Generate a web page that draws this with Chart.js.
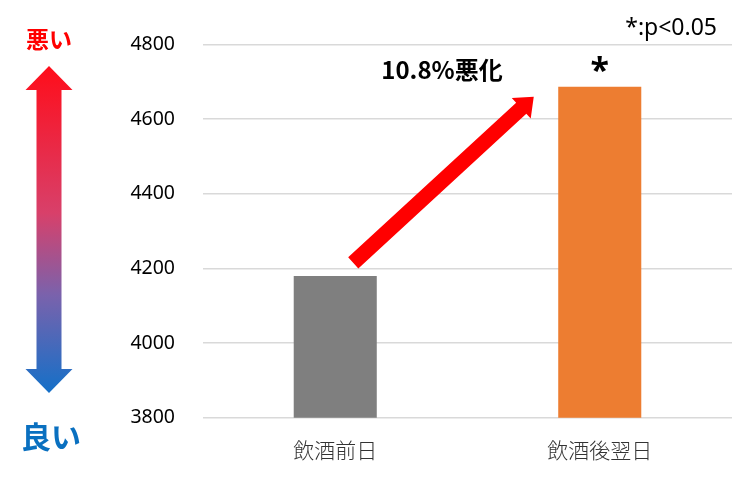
<!DOCTYPE html>
<html>
<head>
<meta charset="utf-8">
<script src="https://cdn.jsdelivr.net/npm/chart.js@4"></script>
<style>
  body { margin: 0; background: #fff; }
  #chart { display: block; }
</style>
</head>
<body>
<canvas id="chart" width="756" height="479"></canvas>
<script>
const categories = ['飲酒前日', '飲酒後翌日'];
const values = [4180, 4687];
const barColors = ['#7F7F7F', '#ED7D31'];
const yTicks = [3800, 4000, 4200, 4400, 4600, 4800];
const changeLabel = '10.8%悪化';
const sigMarks = ['', '*'];
const noteText = '*:p<0.05';

const FONT = "'Noto Sans', 'Noto Sans CJK JP', sans-serif";
const JP = "'Noto Sans CJK JP', 'Noto Sans', sans-serif";

// 矢印を描く
function drawArrow(ctx, x0, y0, x1, y1, shaftW, headL, headW, fill) {
    const dx = x1 - x0, dy = y1 - y0;
    const len = Math.hypot(dx, dy);
    const ux = dx / len, uy = dy / len;
    const nx = -uy, ny = ux;
    const bx = x1 - ux * headL, by = y1 - uy * headL;
    ctx.beginPath();
    ctx.moveTo(x0 + nx * shaftW / 2, y0 + ny * shaftW / 2);
    ctx.lineTo(bx + nx * shaftW / 2, by + ny * shaftW / 2);
    ctx.lineTo(bx + nx * headW / 2, by + ny * headW / 2);
    ctx.lineTo(x1, y1);
    ctx.lineTo(bx - nx * headW / 2, by - ny * headW / 2);
    ctx.lineTo(bx - nx * shaftW / 2, by - ny * shaftW / 2);
    ctx.lineTo(x0 - nx * shaftW / 2, y0 - ny * shaftW / 2);
    ctx.closePath();
    ctx.fillStyle = fill;
    ctx.fill();
}

const decorations = {
    id: 'decorations',
    afterDraw(chart) {
        const ctx = chart.ctx;
        const xs = chart.scales.x, ys = chart.scales.y;
        ctx.save();

        // 左の上下矢印 (グラデーション)
        const cx = 49, top = 66, bottom = 393;
        const grad = ctx.createLinearGradient(0, top, 0, bottom);
        grad.addColorStop(0, '#FF0D1A');
        grad.addColorStop(0.45, '#D8406A');
        grad.addColorStop(0.7, '#7A62AC');
        grad.addColorStop(1, '#1470C8');
        ctx.beginPath();
        ctx.moveTo(cx, top);
        ctx.lineTo(cx + 23.5, 90);
        ctx.lineTo(cx + 12.5, 90);
        ctx.lineTo(cx + 12.5, 369);
        ctx.lineTo(cx + 23.5, 369);
        ctx.lineTo(cx, bottom);
        ctx.lineTo(cx - 23.5, 369);
        ctx.lineTo(cx - 12.5, 369);
        ctx.lineTo(cx - 12.5, 90);
        ctx.lineTo(cx - 23.5, 90);
        ctx.closePath();
        ctx.fillStyle = grad;
        ctx.fill();

        ctx.textAlign = 'center';
        ctx.textBaseline = 'middle';
        ctx.fillStyle = '#FF0000';
        ctx.font = 'bold 23px ' + JP;
        ctx.fillText('悪い', 49, 39);
        ctx.fillStyle = '#0A70C0';
        ctx.font = 'bold 30px ' + JP;
        ctx.fillText('良い', 51, 437);

        // 赤い矢印 (棒の上端から)
        const x0 = xs.getPixelForValue(0), y0 = ys.getPixelForValue(values[0]);
        const x1 = xs.getPixelForValue(1), y1 = ys.getPixelForValue(values[1]);
        drawArrow(ctx, x0 + 18, y0 - 13, x1 - 66, y1 + 10, 15, 17, 28, '#FF0000');

        // テキスト
        ctx.fillStyle = '#000';
        ctx.font = 'bold 24px ' + JP;
        ctx.fillText(changeLabel, 442, 70);

        ctx.font = 'bold 34px ' + FONT;
        sigMarks.forEach((m, i) => {
            if (!m) return;
            const px = xs.getPixelForValue(i), py = ys.getPixelForValue(values[i]);
            ctx.fillText(m, px, py - 14);
        });

        ctx.font = '23px ' + FONT;
        ctx.textAlign = 'right';
        ctx.fillText(noteText, 717, 28);
        ctx.restore();
    }
};

new Chart(document.getElementById('chart'), {
    type: 'bar',
    data: {
        labels: categories,
        datasets: [{
            data: values,
            backgroundColor: barColors,
            barPercentage: 0.314,
            categoryPercentage: 1
        }]
    },
    options: {
        responsive: false,
        animation: false,
        layout: { padding: { left: 0, right: 24, top: 44.5, bottom: 0 } },
        plugins: { legend: { display: false }, tooltip: { enabled: false } },
        scales: {
            x: {
                afterFit(scale) { scale.height = 61.3; },
                grid: { display: false },
                border: { display: false },
                ticks: { color: '#333', font: { family: JP, size: 21, weight: '300' }, padding: 11.5 }
            },
            y: {
                min: 3800,
                max: 4800,
                afterFit(scale) { scale.width = 203; },
                afterBuildTicks(scale) { scale.ticks = yTicks.map(v => ({ value: v })); },
                grid: { color: '#D9D9D9', lineWidth: 1.5, drawTicks: false },
                border: { display: false },
                ticks: {
                    color: '#000',
                    font: { family: FONT, size: 19.5 },
                    padding: 28,
                    callback: v => String(v)
                }
            }
        }
    },
    plugins: [decorations]
});
</script>
</body>
</html>
